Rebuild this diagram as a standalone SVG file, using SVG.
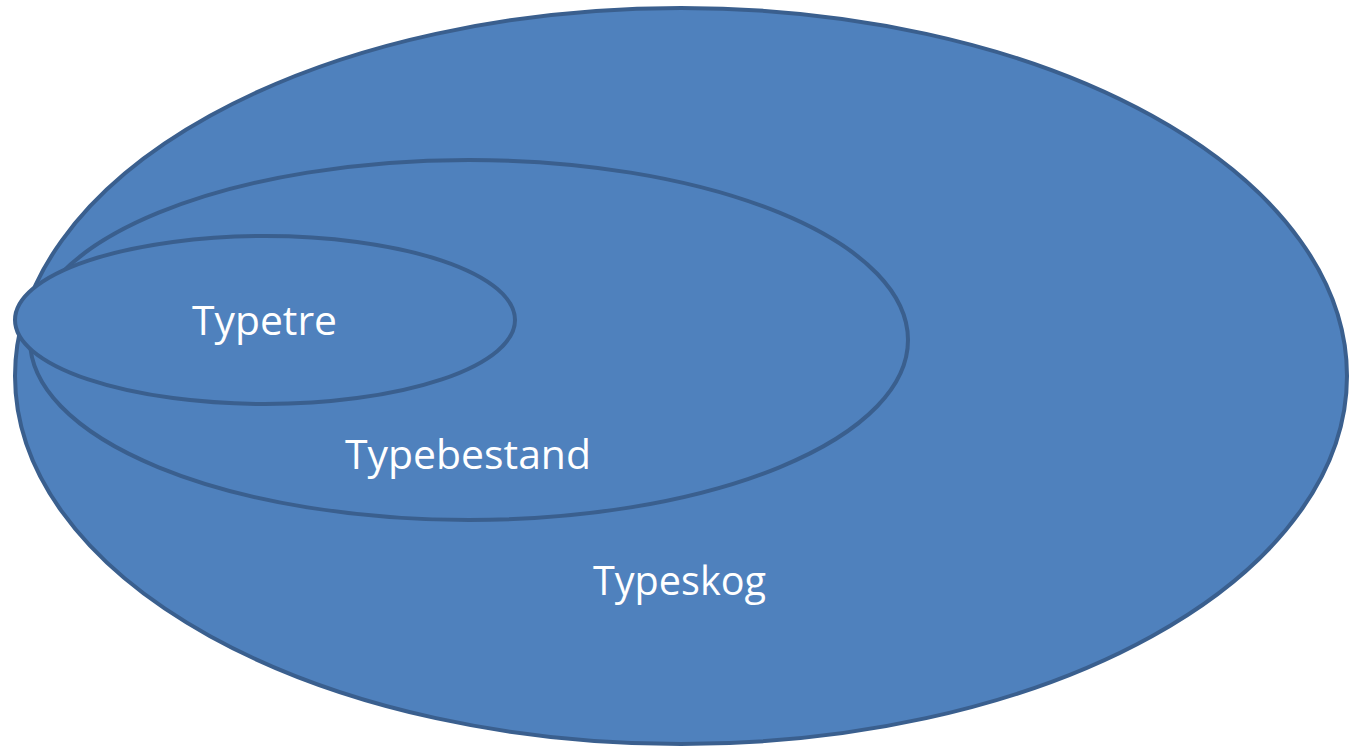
<svg xmlns="http://www.w3.org/2000/svg" width="1356" height="748" viewBox="0 0 1356 748">
<style>
.e{fill:#4F81BD;stroke:#3A5F8E;stroke-width:4}
.t{fill:#FFFFFF;font-family:"Open Sans","Liberation Sans",sans-serif;font-size:40px}
</style>
<rect width="1356" height="748" fill="#FFFFFF"/>
<g id="typeskog">
<ellipse class="e" cx="681" cy="376" rx="666" ry="368"/>
<text class="t" x="593" y="595" textLength="173" lengthAdjust="spacingAndGlyphs">Typeskog</text>
</g>
<g id="typebestand">
<ellipse class="e" cx="469" cy="340" rx="439" ry="180"/>
<text class="t" x="345" y="469" textLength="246" lengthAdjust="spacingAndGlyphs">Typebestand</text>
</g>
<g id="typetre">
<ellipse class="e" cx="265" cy="320" rx="250" ry="84"/>
<text class="t" x="192" y="335" textLength="145" lengthAdjust="spacingAndGlyphs">Typetre</text>
</g>
<g id="connectors"/>
</svg>
